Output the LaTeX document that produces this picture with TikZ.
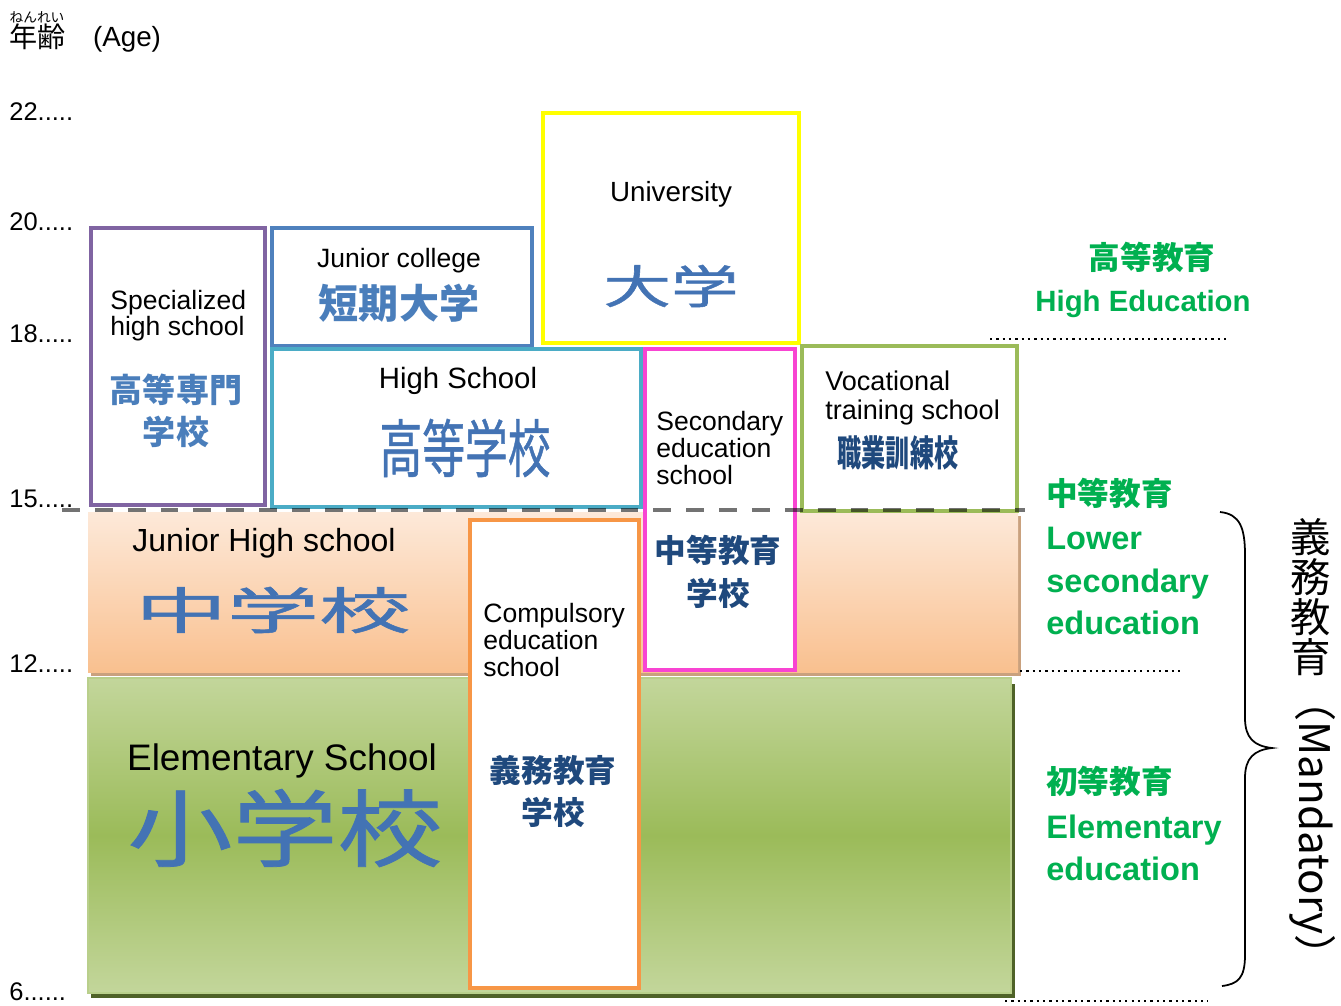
\documentclass[tikz,border=0pt]{standalone}
\usepackage{fontspec}
\usepackage{graphicx}
\setmainfont{Liberation Sans}
\newfontfamily\cjk{Noto Sans CJK JP}
\newfontfamily\cjkthick{Noto Sans CJK JP}[FakeBold=0.9]
\newcommand\setfs[2]{\fontsize{#1}{#2}\selectfont}
\definecolor{purpleline}{HTML}{8064A2}
\definecolor{blueline}{HTML}{4F81BD}
\definecolor{yellowline}{HTML}{FFFF00}
\definecolor{cyanline}{HTML}{4BACC6}
\definecolor{pinkline}{HTML}{F844D2}
\definecolor{greenline}{HTML}{9BBB59}
\definecolor{orangeline}{HTML}{F79646}
\definecolor{kanblue}{HTML}{4A7EBB}
\definecolor{bigblue}{HTML}{4373B4}
\definecolor{navyblue}{HTML}{1F497D}
\definecolor{grntext}{HTML}{00B050}
\definecolor{peachtop}{HTML}{FDE9D9}
\definecolor{peachbot}{HTML}{F9C08F}
\definecolor{peachedge}{HTML}{C9A17E}
\definecolor{elemlight}{HTML}{C3D69B}
\definecolor{elemmid}{HTML}{9BBB59}
\definecolor{elemshadow}{HTML}{4F6228}
\begin{document}
\begin{tikzpicture}[x=0.02cm,y=-0.02cm,
  box/.style={line width=2.8pt,fill=white},
  eng/.style={inner sep=0pt},
  kan/.style={inner sep=0pt,text=kanblue},
  big/.style={inner sep=0pt,text=bigblue},
  navy/.style={inner sep=0pt,align=center,text=navyblue,font=\cjk\bfseries\setfs{18}{24.5}},
  grn/.style={inner sep=0pt,text=grntext,font=\bfseries\setfs{18.5}{24.3}}]
\useasboundingbox (0,0) rectangle (1341,1005);

% age axis
\node[inner sep=0pt,font=\cjk\setfs{7.8}{8}] (ruby) at (37,17) {ねんれい};
\node[inner sep=0pt,font=\cjk\setfs{16}{16}] (nenrei) at (38,37) {年齢};
\node[inner sep=0pt,font=\setfs{15.8}{16}] (age) at (127,39) {(Age)};
\foreach \a/\y in {22/112,20/222,18/334,15/499,12/664}
  \node[inner sep=0pt,anchor=west,font=\setfs{14.5}{15}] (tick\a) at (9,\y) {\a.....};
\node[inner sep=0pt,anchor=west,font=\setfs{14.5}{15}] (tick6) at (9,992) {6......};

% bands
\fill[elemshadow] (91,684) rectangle (1015,998);
\shade[top color=elemlight,bottom color=elemlight,middle color=elemmid] (88,678) rectangle (1011,993);
\draw[greenline!70!white,line width=1pt] (88,678) rectangle (1011,993);
\fill[peachedge] (91,516) rectangle (1021,676);
\shade[top color=peachtop,bottom color=peachbot] (88,512) rectangle (1018,672);

% schools
\draw[box,draw=purpleline] (91,228) rectangle (265,505);
\draw[box,draw=blueline] (272,228) rectangle (532,346);
\draw[box,draw=yellowline] (543,113) rectangle (799,343);
\draw[box,draw=cyanline] (272,349) rectangle (641,507);
\draw[box,draw=pinkline] (645,349) rectangle (795,670);
\draw[box,draw=greenline] (802,346) rectangle (1017,511);
\draw[box,draw=orangeline] (470,520) rectangle (639,988);
\draw[black,opacity=.55,line width=2pt,dash pattern=on 10.2pt off 8.5pt] (62,510) -- (1025,510);

\node[eng,align=left,anchor=west,font=\setfs{15.1}{14.8}] (spec) at (110,316) {Specialized\\high school};
\node[kan,align=center,font=\cjk\bfseries\setfs{18.8}{23.9}] (spec-jp) at (176,411) {高等専門\\学校};
\node[eng,font=\setfs{15.1}{15}] (jc) at (399,261) {Junior college};
\node[kan,font=\cjk\bfseries\setfs{22.8}{23}] (jc-jp) at (399,303) {短期大学};
\node[eng,font=\setfs{15.8}{16}] (univ) at (671,194) {University};
\node[big,font=\cjkthick\setfs{26}{26}] (univ-jp) at (671,286) {\scalebox{1.48}[1]{大学}};
\node[eng,font=\setfs{16.7}{17}] (hs) at (458,381) {High School};
\node[big,font=\cjkthick\setfs{35.8}{36}] (hs-jp) at (465,448) {\scalebox{0.68}[1]{高等学校}};
\node[eng,align=left,anchor=west,font=\setfs{15.1}{15.1}] (sec) at (656,448) {Secondary\\education\\school};
\node[navy] (sec-jp) at (718,572) {中等教育\\学校};
\node[eng,align=left,anchor=west,font=\setfs{15.4}{16.5}] (voc) at (825,398) {Vocational\\training school};
\node[inner sep=0pt,text=navyblue,font=\cjk\bfseries\setfs{20.5}{21}] (voc-jp) at (898,453) {\scalebox{0.67}[1]{職業訓練校}};
\node[eng,font=\setfs{18.2}{18}] (jhs) at (264,543) {Junior High school};
\node[big,font=\cjkthick\setfs{28.4}{28}] (jhs-jp) at (273,610) {\scalebox{1.84}[1]{中学校}};
\node[eng,font=\setfs{21}{21}] (elem) at (282,761) {Elementary School};
\node[big,font=\cjkthick\setfs{47.8}{48}] (elem-jp) at (285,828) {\scalebox{1.25}[1]{小学校}};
\node[eng,align=left,anchor=west,font=\setfs{15.1}{15.4}] (comp) at (483,640) {Compulsory\\education\\school};
\node[navy,font=\cjk\bfseries\setfs{18}{23.9}] (comp-jp) at (553,791) {義務教育\\学校};

% stages
\node[grn,font=\cjk\bfseries\setfs{18}{18}] (high-jp) at (1152,257) {高等教育};
\node[grn,font=\bfseries\setfs{16.7}{17}] (high-en) at (1143,304) {High Education};
\node[grn,anchor=west,font=\cjk\bfseries\setfs{18}{18}] (mid-jp) at (1046,493) {中等教育};
\node[grn,anchor=west,align=left] (mid-en) at (1046,581) {Lower\\secondary\\education};
\node[grn,anchor=west,font=\cjk\bfseries\setfs{18}{18}] (prim-jp) at (1046,781) {初等教育};
\node[grn,anchor=west,align=left] (prim-en) at (1046,848) {Elementary\\education};
\foreach \xa/\xb/\y in {990/1230/339,1020/1180/671,1005/1208/1001}
  \draw[line width=1.3pt,dash pattern=on 1.3pt off 2.3pt] (\xa,\y) -- (\xb,\y);

% mandatory
\draw[line width=1pt] (1220,512) .. controls (1240,514) and (1245,528) .. (1245,555) -- (1245,718)
  .. controls (1245,738) and (1254,746) .. (1272,748) .. controls (1254,750) and (1245,758) .. (1245,778)
  -- (1245,955) .. controls (1245,978) and (1238,984) .. (1222,986);
\node[inner sep=0pt,align=center,font=\cjk\setfs{23}{22.8}] (gimu) at (1311,597) {義\\務\\教\\育};
\node[inner sep=0pt,rotate=-90,font=\cjk\setfs{24}{24}] (mand) at (1313,828) {（Mandatory）};
\end{tikzpicture}
\end{document}
